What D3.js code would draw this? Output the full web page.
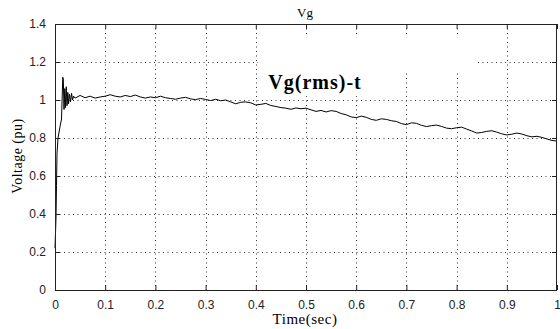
<!DOCTYPE html>
<html>
<head>
<meta charset="utf-8">
<script src="https://cdn.jsdelivr.net/npm/d3@7"></script>
<style>
  body { margin: 0; background: #fff; }
  svg { display: block; }
</style>
</head>
<body>
<div id="chart"></div>
<script>
const timeSec = [
  0, 0.002, 0.003, 0.004, 0.006, 0.01, 0.013, 0.0155, 0.0165, 0.018,
  0.0195, 0.021, 0.0225, 0.024, 0.0255, 0.027, 0.029, 0.031, 0.033, 0.035,
  0.037, 0.04, 0.05, 0.06, 0.07, 0.08, 0.09, 0.1, 0.11, 0.12,
  0.13, 0.14, 0.15, 0.16, 0.17, 0.18, 0.19, 0.2, 0.21, 0.22,
  0.23, 0.24, 0.25, 0.26, 0.27, 0.28, 0.29, 0.3, 0.31, 0.32,
  0.33, 0.34, 0.35, 0.36, 0.37, 0.38, 0.39, 0.4, 0.41, 0.42,
  0.43, 0.44, 0.45, 0.46, 0.47, 0.48, 0.49, 0.5, 0.51, 0.52,
  0.53, 0.54, 0.55, 0.56, 0.57, 0.58, 0.59, 0.6, 0.61, 0.62,
  0.63, 0.64, 0.65, 0.66, 0.67, 0.68, 0.69, 0.7, 0.71, 0.72,
  0.73, 0.74, 0.75, 0.76, 0.77, 0.78, 0.79, 0.8, 0.81, 0.82,
  0.83, 0.84, 0.85, 0.86, 0.87, 0.88, 0.89, 0.9, 0.91, 0.92,
  0.93, 0.94, 0.95, 0.96, 0.97, 0.98, 0.99, 1.0,
];
const voltagePu = [
  0.22, 0.38, 0.55, 0.72, 0.8, 0.86, 0.9, 1.12, 1.11, 0.95,
  1.06, 0.96, 1.07, 0.97, 1.04, 0.98, 1.03, 0.99, 1.035, 1.0,
  1.02, 1.01, 1.024, 1.012, 1.02, 1.01, 1.016, 1.02, 1.028, 1.02,
  1.016, 1.024, 1.018, 1.026, 1.016, 1.01, 1.016, 1.012, 1.02, 1.012,
  1.008, 1.004, 1.01, 1.014, 1.006, 1.002, 1.008, 1.003, 0.997, 1.004,
  0.996, 1.0, 0.99, 0.98, 0.988, 0.99, 0.985, 0.974, 0.977, 0.982,
  0.971, 0.966, 0.96, 0.957, 0.951, 0.958, 0.954, 0.957, 0.948, 0.94,
  0.945, 0.937, 0.944, 0.94, 0.929, 0.922, 0.911, 0.907, 0.915, 0.909,
  0.898, 0.893, 0.901, 0.898, 0.891, 0.887, 0.876, 0.87, 0.88, 0.877,
  0.867, 0.86, 0.865, 0.868, 0.861, 0.852, 0.849, 0.854, 0.857, 0.847,
  0.837, 0.826, 0.829, 0.835, 0.838, 0.831, 0.822, 0.816, 0.82, 0.826,
  0.821, 0.812, 0.806, 0.809, 0.803, 0.795, 0.787, 0.784,
];
const xTicks = [0, 0.1, 0.2, 0.3, 0.4, 0.5, 0.6, 0.7, 0.8, 0.9, 1];
const yTicks = [0, 0.2, 0.4, 0.6, 0.8, 1, 1.2, 1.4];

const margin = { top: 24, right: 3, bottom: 39, left: 55 };
const width = 560 - margin.left - margin.right;
const height = 329 - margin.top - margin.bottom;
const serif = '"Liberation Serif", "Times New Roman", serif';
const sans = '"Liberation Sans", Arial, sans-serif';

const svg = d3
  .select('#chart')
  .append('svg')
  .attr('width', 560)
  .attr('height', 329);

const g = svg
  .append('g')
  .attr('transform', `translate(${margin.left},${margin.top})`);

const x = d3.scaleLinear().domain([0, 1]).range([0, width]);
const y = d3.scaleLinear().domain([0, 1.4]).range([height, 0]);

// Dotted grid
g.append('g')
  .selectAll('line')
  .data(xTicks.slice(1, -1))
  .enter()
  .append('line')
  .attr('x1', (d) => Math.round(x(d)) + 0.5)
  .attr('x2', (d) => Math.round(x(d)) + 0.5)
  .attr('y1', 0)
  .attr('y2', height)
  .attr('stroke', '#333')
  .attr('stroke-dasharray', '1,3.5');

g.append('g')
  .selectAll('line')
  .data(yTicks.slice(1, -1))
  .enter()
  .append('line')
  .attr('x1', 0)
  .attr('x2', width)
  .attr('y1', (d) => Math.round(y(d)) + 0.5)
  .attr('y2', (d) => Math.round(y(d)) + 0.5)
  .attr('stroke', '#333')
  .attr('stroke-dasharray', '1,3.5');

// White background of the annotation boxes hides the grid there
g.append('rect')
  .attr('x', x(0.405))
  .attr('y', y(1.33))
  .attr('width', x(0.84) - x(0.405))
  .attr('height', y(1.148) - y(1.33))
  .attr('fill', '#fff');
g.append('rect')
  .attr('x', x(0.405))
  .attr('y', y(1.15))
  .attr('width', x(0.625) - x(0.405))
  .attr('height', y(1.02) - y(1.15))
  .attr('fill', '#fff');

// Curve
const line = d3
  .line()
  .x((d, i) => x(timeSec[i]))
  .y((d) => y(d));

g.append('path')
  .datum(voltagePu)
  .attr('d', line)
  .attr('fill', 'none')
  .attr('stroke', '#000')
  .attr('stroke-width', 1);

// Box with inward ticks on all four sides
g.append('rect')
  .attr('x', 0.5)
  .attr('y', 0.5)
  .attr('width', width - 1)
  .attr('height', height)
  .attr('fill', 'none')
  .attr('stroke', '#222');

g.append('g')
  .attr('transform', `translate(0,${height})`)
  .call(d3.axisBottom(x).tickValues(xTicks).tickSize(-5).tickPadding(10).tickFormat((d) => d));
g.append('g')
  .call(d3.axisTop(x).tickValues(xTicks).tickSize(-5).tickFormat(''));
g.append('g')
  .call(d3.axisLeft(y).tickValues(yTicks).tickSize(-5).tickPadding(9).tickFormat((d) => d));
g.append('g')
  .attr('transform', `translate(${width},0)`)
  .call(d3.axisRight(y).tickValues(yTicks).tickSize(-5).tickFormat(''));

g.selectAll('.domain').remove();
g.selectAll('.tick line').attr('stroke', '#222');
g.selectAll('.tick text')
  .attr('fill', '#222')
  .style('font-family', sans)
  .style('font-size', '12px');

// Titles
svg.append('text')
  .attr('x', 305)
  .attr('y', 17)
  .attr('text-anchor', 'middle')
  .style('font-family', serif)
  .style('font-size', '13px')
  .text('Vg');

svg.append('text')
  .attr('x', 305)
  .attr('y', 324)
  .attr('text-anchor', 'middle')
  .style('font-family', serif)
  .style('font-size', '15px')
  .style('letter-spacing', '0.5px')
  .text('Time(sec)');

svg.append('text')
  .attr('transform', 'translate(22,156) rotate(-90)')
  .attr('text-anchor', 'middle')
  .style('font-family', serif)
  .style('font-size', '14px')
  .style('letter-spacing', '0.5px')
  .text('Voltage (pu)');

g.append('text')
  .attr('x', x(0.425))
  .attr('y', y(1.058))
  .style('font-family', serif)
  .style('font-size', '20px')
  .style('font-weight', 'bold')
  .style('letter-spacing', '1px')
  .text('Vg(rms)-t');
</script>
</body>
</html>
